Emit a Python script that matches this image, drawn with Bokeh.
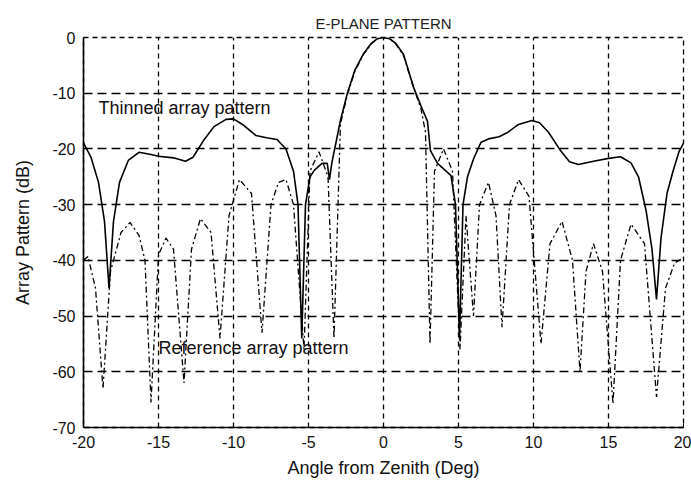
from bokeh.plotting import figure
from bokeh.models import Label, FixedTicker, Range1d
from bokeh.embed import file_html
from bokeh.resources import INLINE

# Thinned array pattern (solid)
thin_angle = [-20.0, -19.5, -19.0, -18.6, -18.3, -18.0, -17.6, -17.0, -16.3, -15.5, -15.0,
              -14.0, -13.2, -12.7, -12.0, -11.3, -10.5, -10.0, -9.3, -8.5, -7.8, -7.1, -6.5,
              -6.0, -5.7, -5.45, -5.2, -4.9, -4.6, -4.1, -3.75, -3.6, -3.45, -2.87, -2.4,
              -1.9, -1.33, -0.8, -0.4, 0.0, 0.4, 0.8, 1.33, 2.0, 2.5, 2.93, 3.13, 3.6,
              4.1, 4.5, 4.8, 5.07, 5.3, 5.6, 6.0, 6.5, 7.0, 7.7, 8.3, 9.0, 9.9, 10.4, 11.0,
              11.8, 12.4, 13.0, 14.0, 15.0, 15.8, 16.5, 17.0, 17.5, 17.9, 18.2, 18.5, 18.9,
              19.3, 19.7, 20.0]
thin_db = [-18.9, -21.5, -26.0, -33.0, -45.0, -33.0, -26.0, -22.0, -20.6, -21.0, -21.3,
           -21.6, -22.2, -21.5, -18.5, -16.0, -14.7, -14.6, -15.8, -17.6, -18.0, -18.3, -20.0,
           -24.0, -30.0, -54.0, -30.0, -25.0, -23.8, -22.6, -22.6, -25.5, -22.6, -14.9, -9.9,
           -5.8, -2.9, -1.0, -0.2, 0.0, -0.2, -1.0, -3.0, -8.9, -12.3, -15.0, -20.3, -22.6,
           -23.8, -24.8, -30.0, -54.0, -30.0, -25.0, -21.8, -18.8, -18.2, -17.8, -17.0, -15.6,
           -14.9, -15.3, -17.0, -20.3, -22.3, -22.8, -22.2, -21.7, -21.4, -22.5, -25.0, -31.0,
           -38.0, -47.0, -36.0, -28.0, -24.0, -20.5, -19.0]

# Reference array pattern (dash-dot)
ref_angle = [-20.0, -19.7, -19.2, -18.7, -18.2, -17.5, -16.9, -16.3, -15.9, -15.5, -15.0,
             -14.5, -14.0, -13.3, -12.8, -12.2, -11.5, -10.9, -10.3, -9.6, -8.8, -8.1, -7.5,
             -7.0, -6.5, -6.0, -5.3, -4.9, -4.3, -3.7, -3.3, -2.87, -2.4, -1.9, -1.33, -0.8,
             -0.4, 0.0, 0.4, 0.8, 1.33, 2.0, 2.5, 2.8, 3.1, 3.4, 4.0, 4.6, 5.1, 5.5, 6.0,
             6.4, 7.0, 7.5, 7.9, 8.4, 9.0, 9.7, 10.5, 11.1, 11.9, 12.6, 13.1, 13.5, 14.0,
             14.6, 15.3, 15.8, 16.5, 17.4, 18.2, 18.8, 19.4, 20.0]
ref_db = [-40.0, -39.3, -45.0, -63.0, -42.0, -35.0, -33.2, -35.5, -40.0, -65.5, -39.0,
          -36.0, -38.0, -62.0, -38.0, -32.5, -35.0, -54.0, -32.0, -25.5, -28.0, -53.0, -30.0,
          -26.0, -25.5, -30.0, -56.0, -24.0, -20.5, -25.0, -54.0, -15.5, -10.2, -6.0, -3.0,
          -1.1, -0.2, 0.0, -0.2, -1.1, -3.2, -9.0, -12.8, -17.0, -55.0, -24.0, -20.0, -24.0,
          -56.0, -32.0, -50.0, -30.0, -26.0, -32.0, -52.0, -30.0, -25.5, -28.5, -55.0, -37.0,
          -33.0, -40.0, -60.0, -42.0, -37.0, -42.0, -65.7, -40.0, -33.5, -37.0, -64.5, -45.0,
          -40.5, -39.5]

x_ticks = [-20, -15, -10, -5, 0, 5, 10, 15, 20]
y_ticks = [0, -10, -20, -30, -40, -50, -60, -70]

FONT = "Liberation Sans"

p = figure(width=691, height=485, output_backend="svg", toolbar_location=None,
           x_range=Range1d(-20, 20), y_range=Range1d(-70, 0),
           min_border_left=83, min_border_right=8, min_border_top=37, min_border_bottom=58)

p.title.text = "E-PLANE PATTERN"
p.title.align = "center"
p.title.text_font = FONT
p.title.text_font_size = "15px"
p.title.text_font_style = "normal"
p.title.text_color = "#222222"
p.title.standoff = 12

p.outline_line_color = "black"
p.outline_line_dash = "5 4"
p.outline_line_width = 1.3
p.background_fill_color = "white"

for ax in (p.xaxis[0], p.yaxis[0]):
    ax.axis_line_color = "black"
    ax.axis_line_width = 1.6
    ax.major_tick_in = 4
    ax.major_tick_out = 0
    ax.minor_tick_line_color = None
    ax.major_tick_line_color = "black"
    ax.major_label_text_font = FONT
    ax.major_label_text_font_size = "16px"
    ax.major_label_text_color = "#111111"
    ax.axis_label_text_font = FONT
    ax.axis_label_text_font_size = "18px"
    ax.axis_label_text_font_style = "normal"
    ax.axis_label_text_color = "#111111"

p.xaxis.ticker = FixedTicker(ticks=x_ticks)
p.yaxis.ticker = FixedTicker(ticks=y_ticks)
p.xaxis.major_label_overrides = {t: str(t) for t in x_ticks}
p.yaxis.major_label_overrides = {t: str(t) for t in y_ticks}
p.xaxis.axis_label = "Angle from Zenith (Deg)"
p.yaxis.axis_label = "Array Pattern (dB)"
p.xaxis.major_label_standoff = 8
p.yaxis.major_label_standoff = 8
p.xaxis.axis_label_standoff = 7
p.yaxis.axis_label_standoff = 16

p.xgrid.grid_line_color = "black"
p.xgrid.grid_line_dash = "5 4"
p.xgrid.grid_line_width = 1.3
p.ygrid.grid_line_color = "black"
p.ygrid.grid_line_dash = "9 5"
p.ygrid.grid_line_width = 1.3

p.line(ref_angle, ref_db, line_color="black", line_width=1.3, line_dash="6 3 2 3")
p.line(thin_angle, thin_db, line_color="black", line_width=1.6)

p.add_layout(Label(x=-19.0, y=-12.6, text="Thinned array pattern", text_font=FONT,
                   text_font_size="18px", text_baseline="middle", text_color="#111111"))
p.add_layout(Label(x=-15.0, y=-55.8, text="Reference array pattern", text_font=FONT,
                   text_font_size="18px", text_baseline="middle", text_color="#111111"))

open("out.html", "w").write(file_html(p, INLINE))
